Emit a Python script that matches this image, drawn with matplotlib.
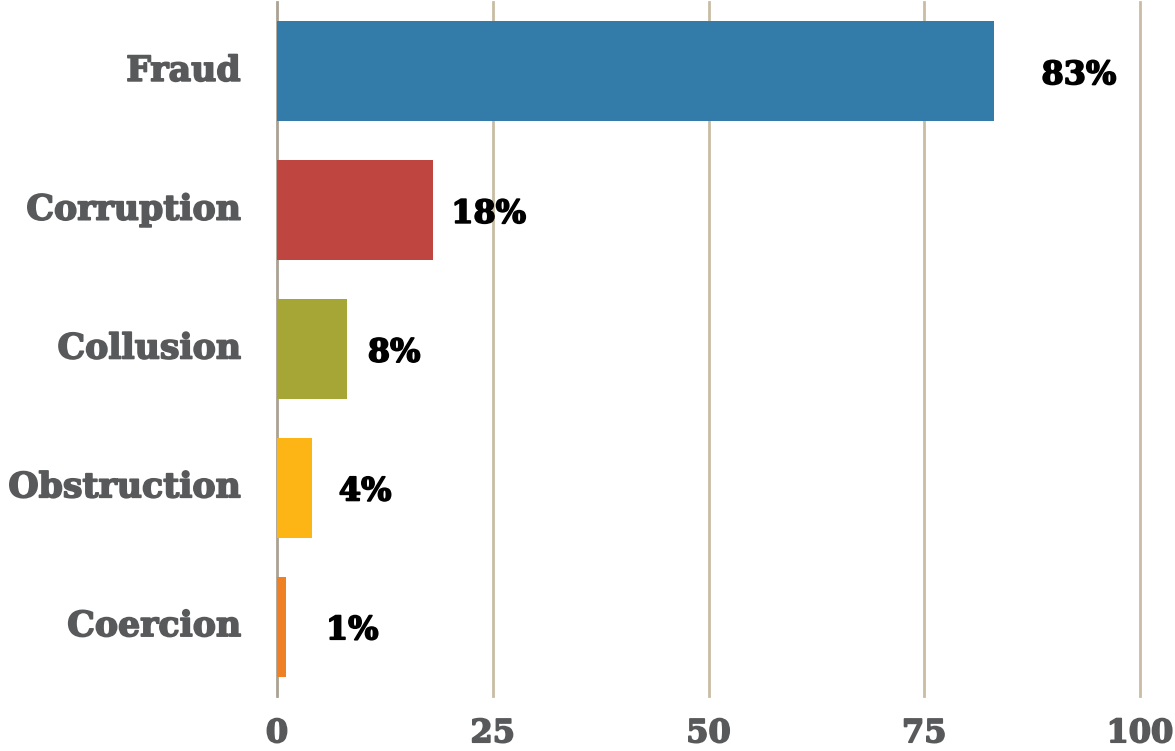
import numpy as np
import matplotlib
matplotlib.use('Agg')
import matplotlib.pyplot as plt
import matplotlib.patheffects as pe
from matplotlib.transforms import ScaledTranslation

# Data
categories = ['Fraud', 'Corruption', 'Collusion', 'Obstruction', 'Coercion']
values = [83.1, 18.1, 8.1, 4.1, 1.0]
value_labels = ['83%', '18%', '8%', '4%', '1%']
colors = ['#337ba8', '#bf4541', '#a6a637', '#fdb515', '#f08024']
# horizontal offset of each percent label from the bar end (points)
label_offsets = [61, 40, 34, 38, 48]

xticks = [0, 25, 50, 75, 100]

plt.rcParams['font.family'] = ['DejaVu Serif']
plt.rcParams['font.weight'] = 'bold'

fig = plt.figure(figsize=(11.75, 7.51), dpi=100)
ax = fig.add_axes([277 / 1175, 1 - 696 / 751, (1140 - 277) / 1175, 694 / 751])

y = np.arange(len(categories))
ax.barh(y, values, height=0.72, color=colors, zorder=3)

for i, (v, lab) in enumerate(zip(values, value_labels)):
    ax.annotate(lab, xy=(v, i), xytext=(label_offsets[i], -3), textcoords='offset points',
                ha='center', va='center', fontsize=23, fontweight='bold', color='black',
                path_effects=[pe.withStroke(linewidth=1.2, foreground='black')])

ax.set_xlim(0, 100)
ax.set_ylim(len(categories) - 0.5, -0.5)
ax.set_xticks(xticks)
ax.set_yticks(y)
ax.set_yticklabels(categories)

for t in xticks:
    ax.axvline(t, color='#c9bca3' if t else '#aaa293', lw=2, zorder=1, clip_on=False)

for s in ax.spines.values():
    s.set_visible(False)

ax.tick_params(axis='both', length=0, colors='#58595b')
ax.tick_params(axis='y', pad=26, labelsize=25)
ax.tick_params(axis='x', pad=16, labelsize=23)
gray_stroke = [pe.withStroke(linewidth=1.2, foreground='#58595b')]
for lbl in ax.get_xticklabels():
    lbl.set_fontweight('bold')
    lbl.set_path_effects(gray_stroke)
for lbl in ax.get_yticklabels():
    lbl.set_fontweight('bold')
    lbl.set_path_effects(gray_stroke)
    lbl.set_transform(lbl.get_transform() + ScaledTranslation(0, 4 / 100, fig.dpi_scale_trans))

fig.savefig('out.png', dpi=100)
